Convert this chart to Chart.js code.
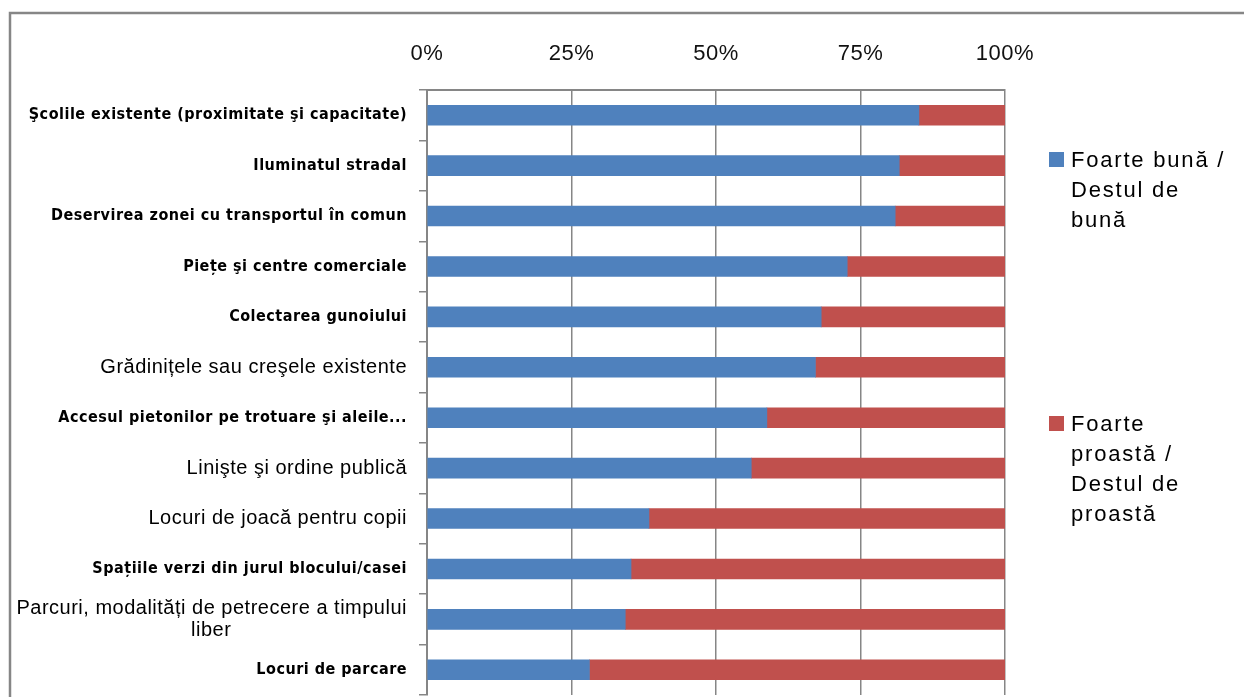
<!DOCTYPE html>
<html>
<head>
<meta charset="utf-8">
<script src="https://cdn.jsdelivr.net/npm/chart.js@4.4.0/dist/chart.umd.min.js"></script>
<style>
    html, body { margin: 0; padding: 0; background: #fff; overflow: hidden; }
</style>
</head>
<body>
<canvas id="surveyChart" width="1244" height="697"></canvas>
<script>
const categories = [
    "Şcolile existente (proximitate şi capacitate)",
    "Iluminatul stradal",
    "Deservirea zonei cu transportul în comun",
    "Piețe şi centre comerciale",
    "Colectarea gunoiului",
    "Grădinițele sau creşele existente",
    "Accesul pietonilor pe trotuare şi aleile...",
    "Linişte şi ordine publică",
    "Locuri de joacă pentru copii",
    "Spațiile verzi din jurul blocului/casei",
    ["Parcuri, modalități de petrecere a timpului", "liber                             "],
    "Locuri de parcare"
];
const goodShare = [85.1, 81.7, 81.0, 72.7, 68.2, 67.2, 58.8, 56.1, 38.4, 35.3, 34.3, 28.1];
const badShare = [14.9, 18.3, 19.0, 27.3, 31.8, 32.8, 41.2, 43.9, 61.6, 64.7, 65.7, 71.9];
const tickLabels = ["0%", "25%", "50%", "75%", "100%"];
const seriesNames = ["Foarte bună / Destul de bună", "Foarte proastă / Destul de proastă"];
const legendLines = [["Foarte bună /", "Destul de", "bună"], ["Foarte", "proastă /", "Destul de", "proastă"]];

// rows that the original draws in the plain (Arial-like) face
const plainRows = [5, 7, 8, 10];

const frameAndLegend = {
    id: 'frameAndLegend',
    beforeDraw(chart) {
        const ctx = chart.ctx;
        ctx.save();
        ctx.fillStyle = '#fff';
        ctx.fillRect(0, 0, chart.width, chart.height);
        ctx.strokeStyle = '#868686';
        ctx.lineWidth = 2.5;
        ctx.strokeRect(10, 13, chart.width + 20, chart.height + 20);
        ctx.restore();
        ctx.letterSpacing = '0.5px';
    },
    afterDraw(chart) {
        const ctx = chart.ctx;
        const tops = [152, 416];
        ctx.save();
        ctx.letterSpacing = '1.8px';
        ctx.font = '22px "Liberation Sans", Arial, sans-serif';
        ctx.textBaseline = 'alphabetic';
        chart.data.datasets.forEach((ds, i) => {
            ctx.fillStyle = ds.backgroundColor;
            ctx.fillRect(1049, tops[i], 15, 15);
            ctx.fillStyle = '#000';
            legendLines[i].forEach((line, j) => {
                ctx.fillText(line, 1071, tops[i] + 15 + j * 30);
            });
        });
        ctx.restore();
    }
};

const ctx = document.getElementById('surveyChart').getContext('2d');
new Chart(ctx, {
    type: 'bar',
    data: {
        labels: categories,
        datasets: [
            { label: seriesNames[0], data: goodShare, backgroundColor: '#4F81BD', barThickness: 20 },
            { label: seriesNames[1], data: badShare, backgroundColor: '#C0504D', barThickness: 20 }
        ]
    },
    options: {
        indexAxis: 'y',
        responsive: false,
        animation: false,
        devicePixelRatio: 1,
        layout: { padding: { top: 13, left: 10, right: 239, bottom: 2 } },
        plugins: { legend: { display: false }, tooltip: { enabled: false } },
        scales: {
            x: {
                position: 'top',
                stacked: true,
                min: 0,
                max: 100,
                ticks: {
                    stepSize: 25,
                    padding: 23,
                    color: '#111',
                    font: { family: '"Liberation Sans", Arial, sans-serif', size: 22 },
                    callback: (v, i) => tickLabels[i]
                },
                grid: { color: '#868686', lineWidth: 1.5, drawTicks: false },
                border: { color: '#868686', width: 2 },
                afterFit: s => { s.height = 77; }
            },
            y: {
                stacked: true,
                ticks: {
                    padding: 12,
                    color: '#000',
                    autoSkip: false,
                    font: c => plainRows.includes(c.index)
                        ? { family: '"Liberation Sans", Arial, sans-serif', size: 20, lineHeight: 1.1 }
                        : { family: '"Liberation Sans Narrow", "DejaVu Sans Condensed", sans-serif', size: 16, weight: 'bold' }
                },
                grid: { drawOnChartArea: false, tickLength: 8, color: '#868686', lineWidth: 1.5, offset: true },
                border: { color: '#868686', width: 2 },
                afterFit: s => {
                    s.width = 417;
                    s.paddingTop = 0;
                    s.paddingBottom = 0;
                }
            }
        }
    },
    plugins: [frameAndLegend]
});
</script>
</body>
</html>
